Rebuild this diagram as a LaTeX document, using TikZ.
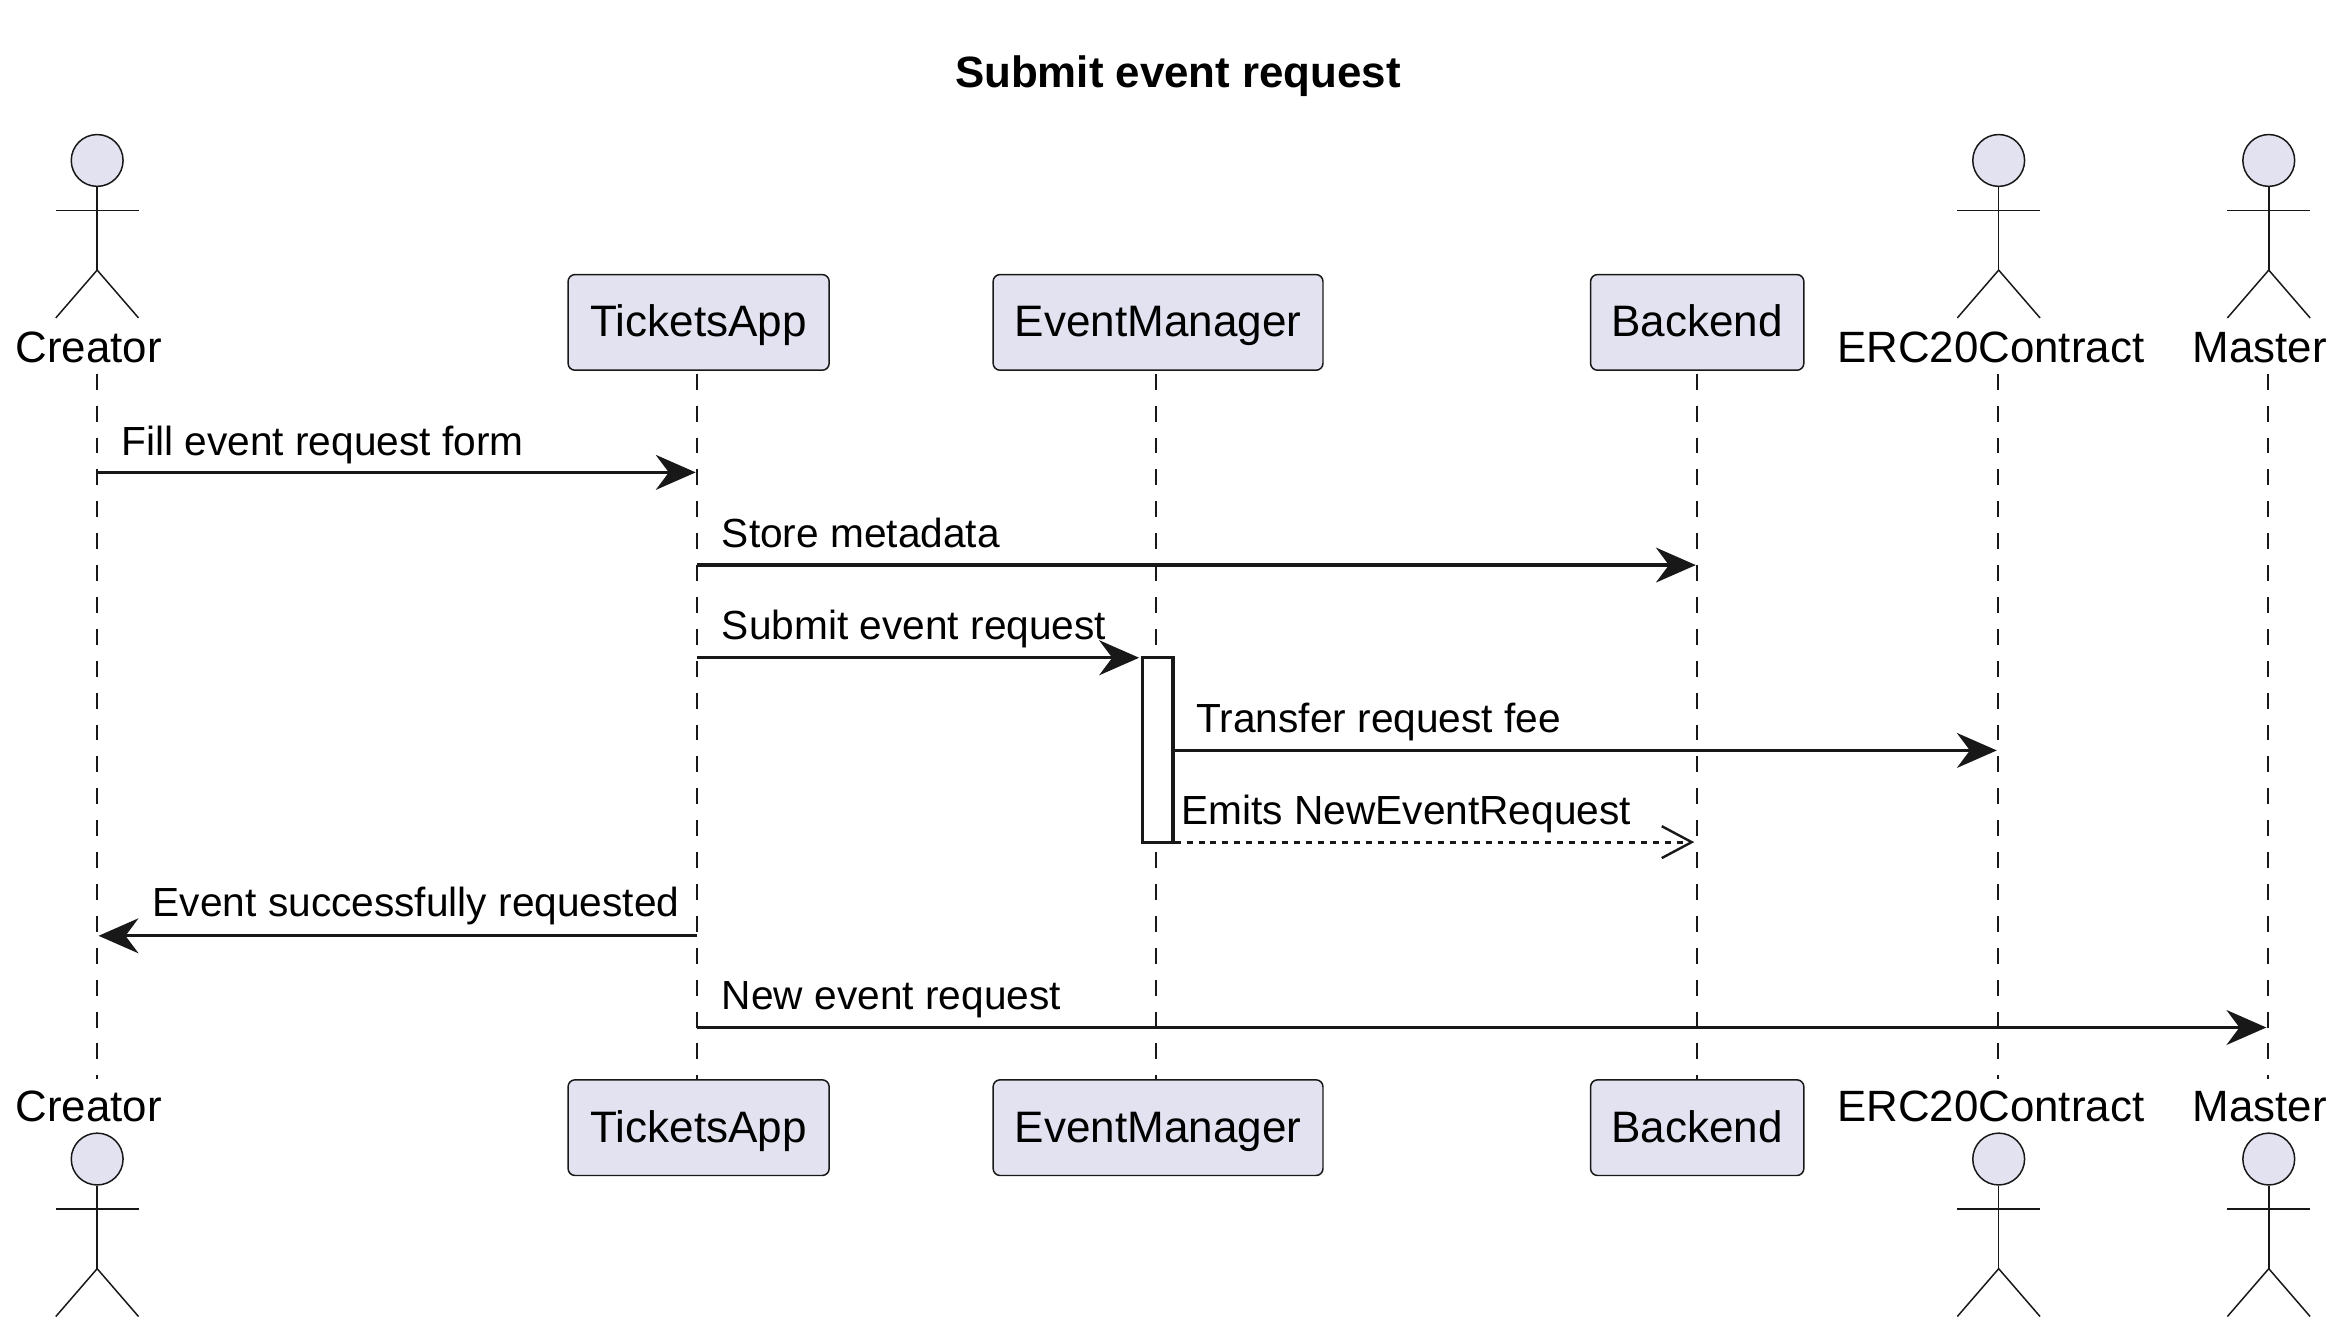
\documentclass[tikz,border=0pt]{standalone}
\usepackage{fontspec}
\setmainfont{Liberation Sans}
\usetikzlibrary{arrows.meta,positioning}
\definecolor{umlfill}{HTML}{E2E2F0}
\definecolor{umlline}{HTML}{181818}
\tikzset{
  lifeline/.style={draw=umlline,line width=0.75pt,dash pattern=on 8pt off 8pt},
  partbox/.style={draw=umlline,fill=umlfill,line width=0.75pt,rounded corners=3.5pt,minimum height=48pt,inner sep=0pt,text height=18pt,text depth=3.5pt,font=\fontsize{22.1}{26}\selectfont},
  actorname/.style={font=\fontsize{22}{26}\selectfont,inner sep=0pt,anchor=base},
  actorline/.style={draw=umlline,line width=0.75pt},
  syncmsg/.style={draw=umlline,line width=1.6pt,shorten >=0.7pt,-{Stealth[length=20pt,width=17.5pt,inset=6.5pt]}},
  retmsg/.style={draw=umlline,line width=1.6pt,shorten >=1.5pt,dash pattern=on 3pt off 3pt,-{Straight Barb[length=15pt,width=16pt,line width=1.2pt]}},
  msgtext/.style={font=\fontsize{20.4}{24}\selectfont,inner sep=0pt,anchor=base west},
  activation/.style={draw=umlline,fill=white,line width=1.6pt}
}
\newcommand{\stickman}[3]{%
  \node[circle,draw=umlline,fill=umlfill,line width=0.75pt,minimum size=26pt,inner sep=0pt] (#1) at (#2,#3) {};
  \draw[actorline] (#1.south) -- ++(0,84);
  \draw[actorline] (#2-41.5,#3+50) -- (#2+41.5,#3+50);
  \draw[actorline] (#2-41.5,#3+158) -- (#2,#3+110) -- (#2+41.5,#3+158);
}
\begin{document}
\begin{tikzpicture}[x=0.5pt,y=-0.5pt]
\useasboundingbox (0,0) rectangle (2352,1338.5);
\node[font=\bfseries\fontsize{22}{26}\selectfont,inner sep=0pt] (title) at (1182,76) {Submit event request};

\foreach \who/\x in {creator/97.5,tickets/699.5,manager/1160,backend/1703,erc/2005,master/2275.5} {
  \coordinate (\who top) at (\x,375);
  \coordinate (\who bot) at (\x,1083);
  \draw[lifeline] (\who top) -- (\who bot);
}

\foreach \who/\x in {creator/97.5,erc/2005.5,master/2276.5} {
  \stickman{\who head}{\x}{161}
  \stickman{\who foot}{\x}{1163}
}
\foreach \who/\x/\name in {creator/89/Creator,erc/1997.5/ERC20Contract,master/2267.5/Master} {
  \node[actorname] (\who label) at (\x,364) {\name};
  \node[actorname] (\who under) at (\x,1125) {\name};
}

\foreach \who/\x/\w/\name in {tickets/701/262/TicketsApp,manager/1162/331/EventManager,backend/1703/214/Backend} {
  \node[partbox,minimum width=\w*0.5pt] (\who box) at (\x,323.5) {\name};
  \node[partbox,minimum width=\w*0.5pt] (\who end) at (\x,1131.5) {\name};
}

\coordinate (fillrow) at (0,474);
\coordinate (storerow) at (0,567);
\coordinate (submitrow) at (0,660);
\coordinate (feerow) at (0,753);
\coordinate (emitrow) at (0,845);
\coordinate (donerow) at (0,939);
\coordinate (newrow) at (0,1031);

\node[activation,minimum width=15.5pt,minimum height=92.5pt,inner sep=0pt] (active) at (1161.5,752.5) {};

\draw[syncmsg] (creatortop |- fillrow) -- (ticketstop |- fillrow);
\draw[syncmsg] (ticketstop |- storerow) -- (backendtop |- storerow);
\draw[syncmsg] (ticketstop |- submitrow) -- (active.west |- submitrow);
\draw[syncmsg] (active.east |- feerow) -- (erctop |- feerow);
\draw[retmsg] (active.east |- emitrow) -- (backendtop |- emitrow);
\draw[syncmsg] (ticketstop |- donerow) -- (creatortop |- donerow);
\draw[syncmsg] (ticketstop |- newrow) -- (mastertop |- newrow);

\node[msgtext] (filltext) at (121.5,457) {Fill event request form};
\node[msgtext] (storetext) at (724,549) {Store metadata};
\node[msgtext] (submittext) at (724,642) {Submit event request};
\node[msgtext] (feetext) at (1200,735) {Transfer request fee};
\node[msgtext] (emittext) at (1185,827) {Emits NewEventRequest};
\node[msgtext] (donetext) at (153,920) {Event successfully requested};
\node[msgtext] (newtext) at (724,1013) {New event request};
\end{tikzpicture}
\end{document}
